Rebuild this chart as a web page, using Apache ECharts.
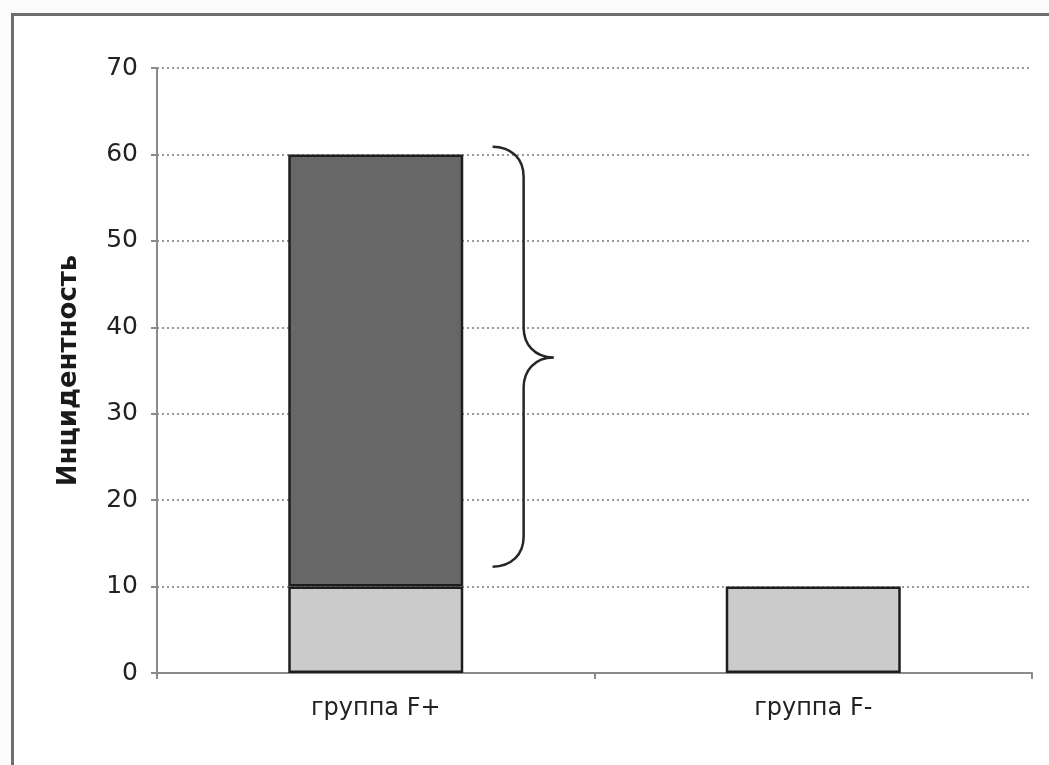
<!DOCTYPE html>
<html>
<head>
<meta charset="utf-8">
<script src="https://cdn.jsdelivr.net/npm/echarts@6/dist/echarts.min.js"></script>
<style>
  html, body { margin: 0; padding: 0; background: #ffffff; }
  #wrap { position: relative; width: 1049px; height: 765px; overflow: hidden; background: #fbfbfb; }
  #frame { position: absolute; left: 11px; top: 13px; width: 1100px; height: 800px;
           border-top: 3px solid #6e6e6e; border-left: 3px solid #6e6e6e; background: #ffffff; }
  #chart { position: absolute; left: 0; top: 0; width: 1049px; height: 765px; }
</style>
</head>
<body>
<div id="wrap">
  <div id="frame"></div>
  <div id="chart"></div>
</div>
<script>
// ---- data ----
const categories = ['группа F+', 'группа F-'];
const baseValues = [10, 10];          // light grey part
const upperValues = [50, null];       // dark grey stacked part
const yTicks = { min: 0, max: 70, interval: 10 };
const yAxisTitle = 'Инцидентность';
// brace: [category index, lower value, tip value, upper value]
const braceData = [[0, 12.3, 36.5, 60.9]];

const FONT = "'DejaVu Sans', sans-serif";
const chart = echarts.init(document.getElementById('chart'), null, { renderer: 'canvas' });

const option = {
  backgroundColor: 'transparent',
  animation: false,
  grid: { left: 157, right: 17, top: 68, bottom: 92, containLabel: false },
  xAxis: {
    type: 'category',
    data: categories,
    boundaryGap: true,
    axisLine: { lineStyle: { color: '#8a8a8a', width: 2 } },
    axisTick: { show: true, length: 6, lineStyle: { color: '#8a8a8a', width: 2 } },
    axisLabel: { color: '#222222', fontFamily: FONT, fontSize: 24, margin: 24 },
    splitLine: { show: false }
  },
  yAxis: {
    type: 'value',
    min: yTicks.min, max: yTicks.max, interval: yTicks.interval,
    name: yAxisTitle,
    nameLocation: 'middle',
    nameGap: 75,
    nameRotate: 90,
    nameTextStyle: { color: '#1a1a1a', fontFamily: FONT, fontSize: 26, fontWeight: 'bold' },
    axisLine: { show: true, lineStyle: { color: '#8a8a8a', width: 2 } },
    axisTick: { show: true, length: 6, lineStyle: { color: '#8a8a8a', width: 2 } },
    axisLabel: { color: '#222222', fontFamily: FONT, fontSize: 25, margin: 19 },
    splitLine: { show: true, lineStyle: { color: '#9a9a9a', width: 2, type: [2, 3] } }
  },
  series: [
    {
      type: 'bar', stack: 'total', data: baseValues, barWidth: '40%',
      itemStyle: { color: '#cbcbcb', borderColor: '#1e1e1e', borderWidth: 2.5 },
      z: 3
    },
    {
      type: 'bar', stack: 'total', data: upperValues, barWidth: '40%',
      itemStyle: { color: '#676767', borderColor: '#1e1e1e', borderWidth: 2.5 },
      z: 3
    },
    {
      type: 'custom',
      data: braceData,
      z: 5,
      silent: true,
      renderItem: function (params, api) {
        const cat = api.value(0);
        const pLow = api.coord([cat, api.value(1)]);
        const pTip = api.coord([cat, api.value(2)]);
        const pHigh = api.coord([cat, api.value(3)]);
        const bw = api.size([1, 0])[0];
        const cx = pLow[0];
        const x0 = cx + bw * 0.267;   // brace ends
        const x1 = cx + bw * 0.338;   // vertical stroke
        const x2 = cx + bw * 0.407;   // tip
        const yT = pHigh[1], yB = pLow[1], yM = pTip[1];
        const r = 30;
        const d =
          'M' + x0 + ' ' + yT +
          ' C' + (x0 + (x1 - x0) * 0.6) + ' ' + yT + ' ' + x1 + ' ' + (yT + r * 0.4) + ' ' + x1 + ' ' + (yT + r) +
          ' L' + x1 + ' ' + (yM - r) +
          ' C' + x1 + ' ' + (yM - r * 0.45) + ' ' + (x1 + (x2 - x1) * 0.35) + ' ' + yM + ' ' + x2 + ' ' + yM +
          ' C' + (x1 + (x2 - x1) * 0.35) + ' ' + yM + ' ' + x1 + ' ' + (yM + r * 0.45) + ' ' + x1 + ' ' + (yM + r) +
          ' L' + x1 + ' ' + (yB - r) +
          ' C' + x1 + ' ' + (yB - r * 0.4) + ' ' + (x0 + (x1 - x0) * 0.6) + ' ' + yB + ' ' + x0 + ' ' + yB;
        return {
          type: 'path',
          shape: { pathData: d },
          style: { fill: 'none', stroke: '#262626', lineWidth: 2.5 }
        };
      }
    }
  ]
};
chart.setOption(option);
</script>
</body>
</html>
